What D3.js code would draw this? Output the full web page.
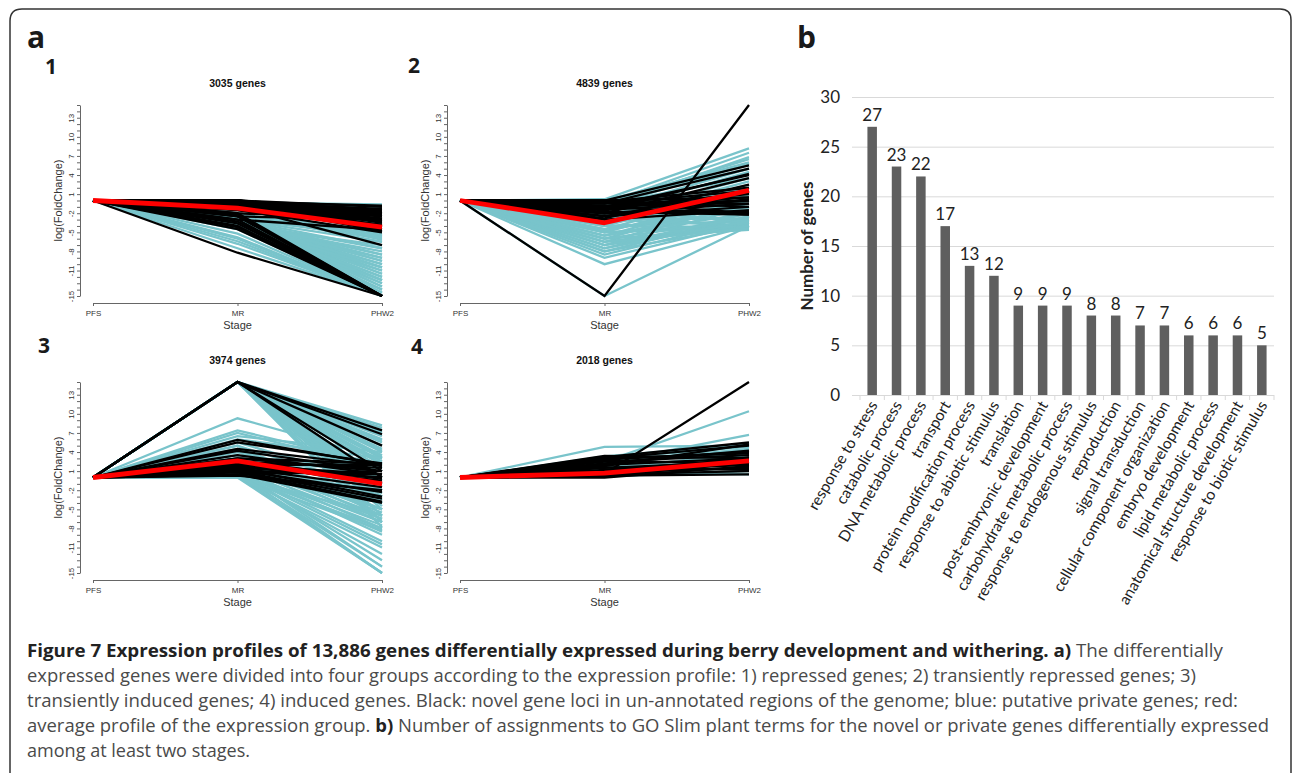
<!DOCTYPE html>
<html>
<head>
<meta charset="utf-8">
<script src="https://cdn.jsdelivr.net/npm/d3@7"></script>
<style>
  body { margin: 0; background: #fff; }
  svg { display: block; }
</style>
</head>
<body>
<div id="chart"></div>
<script>
// ---- data ----
var stages = ["PFS", "MR", "PHW2"];
var yTickLabels = [13, 10, 7, 4, 1, -2, -5, -8, -11, -15];
var geneCounts = ["3035 genes", "4839 genes", "3974 genes", "2018 genes"];

// each profile: [PFS, MR, PHW2] log fold change
var teal1 = [[0,-0.3,-0.6],[0,-0.3,-1.2],[0,-1,-2],[0,-1,-3.5],[0,-1,-5.5],[0,-1,-6.2],[0,-2,-5.6],[0,-2,-6.5],
  [0,-3,-4.5],[0,-3,-5],[0,-3,-5.3],[0,-3.2,-15],[0,-3.2,-14],[0,-3.2,-13],[0,-3.2,-12],[0,-3.2,-11],[0,-3.2,-10],[0,-3.2,-9],
  [0,-3.5,-15],[0,-3.5,-13.5],[0,-3.5,-12.5],[0,-3.5,-11.5],[0,-3.5,-10.5],[0,-3.5,-9.5],[0,-3.5,-8.5],[0,-3.5,-7.5],
  [0,-4,-15],[0,-4,-14.5],[0,-4,-13],[0,-4,-11],[0,-4,-9],[0,-4,-7],[0,-4.5,-15],[0,-4.5,-14],
  [0,-3,-14.5],[0,-3,-13.5],[0,-3,-12.5],[0,-3,-11.5],[0,-3,-10.5],[0,-3,-9.5],[0,-3,-8.5],[0,-3,-7.5],[0,-3,-6.5],
  [0,-3.8,-12],[0,-3.8,-10],[0,-3.8,-8],[0,-4.2,-12.5],[0,-4.2,-10.5],[0,-2.8,-5.8],[0,-2.5,-6],
  [0,-5.2,-15],[0,-5.8,-15],[0,-6,-15],[0,-6.4,-15],[0,-6.8,-15],[0,-7.5,-15]];
var black1 = [[0,0,-1],[0,0,-1.5],[0,0,-2],[0,0,-2.5],[0,0,-3],[0,0,-3.5],[0,0,-4],[0,0,-4.5],
  [0,-0.3,-1.3],[0,-0.3,-2.2],[0,-0.3,-3.2],[0,-0.3,-4.2],[0,-0.6,-1.8],[0,-0.6,-2.8],[0,-0.6,-4.8],
  [0,-1,-2.5],[0,-1,-3.8],[0,-1,-7],[0,-1.5,-4],[0,-1.5,-5],[0,-2,-3],[0,-2,-15],[0,-2.5,-15],[0,-2.5,-3],
  [0,-3,-15],[0,-3,-4.6],[0,-3.3,-15],[0,-3.6,-15],[0,-4,-15],[0,-4.2,-15],[0,-4.5,-15],[0,-8.2,-15],
  [0,-0.2,-0.8],[0,-0.4,-1.6],[0,-0.8,-3.3],[0,-1.2,-2],[0,-2.2,-15]];
var red1 = [0, -1.2, -4.2];

var teal2 = [[0,0.2,8.2],[0,-0.5,7.5],[0,-1,6.8],[0,0,6],[0,-1.5,5],[0,-2,4.5],[0,-2.5,3.5],[0,-3,3],[0,-3.5,2.5],
  [0,-4,2],[0,-4.5,1.5],[0,-5,1],[0,-5.5,0.5],[0,-6,0],[0,-6.5,-0.5],[0,-7,-1],[0,-7.5,-2],[0,-8,-2.5],[0,-8.5,-3],
  [0,-9,-3.5],[0,-10,-4],[0,-6,-4.6],[0,-5,-4.2],[0,-7,-3.8],[0,-4,-3.2],[0,-3,-2.8],[0,-6.5,-3.5],[0,-5.5,-2],
  [0,-4.5,-1.5],[0,-15,-4],[0,-2,-4.4],[0,-1,-3.6],[0,-3.5,-0.5],[0,-2.5,1],[0,-1.5,2],[0,-0.5,3.5],[0,0,5],
  [0,-2,-3],[0,-3,-4],[0,-4,-4.2],[0,-5,-3.6],[0,-6,-3],[0,-7,-2.5],[0,-7.5,-3.2],[0,-8,-4],[0,-6.5,-4.4],
  [0,-5.5,-1],[0,-4.8,0],[0,-3.8,1],[0,-3,1.8],[0,-2.2,-1.2],[0,-1.2,-2.4],[0,-0.5,6.5],[0,-1,5.8]];
var black2 = [[0,-15,15],[0,0,5.5],[0,-0.5,5],[0,-1,4],[0,-1.5,4.2],[0,-2,3.5],[0,-0.2,2],[0,-0.5,1.5],[0,-1,1],
  [0,-1.2,0.5],[0,-1.5,0],[0,-2,-0.5],[0,-2.5,-1],[0,-3,-1.5],[0,-0.3,-2],[0,-1,-2.2],[0,-2,-1.8],[0,0,-1],
  [0,-0.8,0],[0,-2.8,2.5],[0,-1.8,-2.2],[0,0,0.5],[0,-0.4,-0.5],[0,-1.4,1.2],[0,-2.4,0.2]];
var red2 = [0, -3.5, 1.6];

var teal3 = [[0,15,8.2],[0,15,7.8],[0,15,7.2],[0,15,6.5],[0,15,6],[0,15,5.5],[0,15,5],[0,15,4.5],[0,15,4],[0,15,3.5],
  [0,15,3],[0,15,2.5],[0,15,2],[0,15,1.5],[0,15,1],[0,15,0],[0,15,-1],[0,15,-2],[0,15,-3],[0,15,-4],[0,15,-5],
  [0,15,7],[0,15,5.8],[0,15,4.2],[0,15,3.2],[0,15,2.2],[0,15,-0.5],[0,15,-1.5],[0,15,-2.5],[0,15,-3.5],[0,15,-4.5],
  [0,15,-6],[0,15,-7],[0,15,-7.8],
  [0,9.3,3],[0,7.4,2],[0,7,1.5],[0,6.5,4],[0,6,3],[0,5.5,-1],[0,5,-2],[0,4.5,-3],[0,4,-4],[0,3.5,-5],[0,3,-5.5],
  [0,2.5,-6],[0,2,-6.5],[0,1.5,-7],[0,1,-7.5],[0,0.5,-8],[0,0,-8.3],[0,0.3,-15],[0,0.8,-15],[0,1.2,-14],[0,0.5,-12],
  [0,1,-10],[0,1.5,-9],[0,2,-8],[0,0.2,-6],[0,0.5,-4],[0,1,-2],[0,1.5,0],[0,2,1.5],[0,3,2],
  [0,0,-15],[0,0.5,-14],[0,1,-13],[0,0.2,-11],[0,0.7,-10.5],[0,1.2,-8.5],[0,2.5,-4],[0,3,-3],[0,4,-2],[0,3.5,-6.5],
  [0,2,-5],[0,1.5,-4],[0,4.5,-5],[0,5,-6],[0,2.8,-7]];
var black3 = [[0,15,7.4],[0,15,6.8],[0,15,5],[0,15,1],[0,15,0],[0,5.9,2],[0,5.5,2.2],[0,4.5,1.8],[0,4.2,1],[0,3,2.2],
  [0,2.5,1.5],[0,2,0.5],[0,1.8,-0.5],[0,1.5,-1.5],[0,1.2,-2.3],[0,1,-3.3],[0,0.8,-3.8],[0,0.5,-4],[0,0.3,-2],
  [0,2.2,-1],[0,1.6,0],[0,3,1],[0,2,2],[0,1,0.5],[0,0.5,1],[0,2.6,-0.2],[0,1.4,-3],[0,3.5,0.5]];
var red3 = [0, 2.6, -1];

var teal4 = [[0,4.8,5],[0,2.5,10.4],[0,2.3,6.7],[0,3,4.8],[0,2,4.5],[0,1.5,3.5],[0,1,3],[0,0.5,2.5],[0,2.8,3.8],
  [0,1.8,5.3],[0,0.2,1],[0,1,0.5],[0,2,2],[0,3.3,5.2],[0,2.6,4.4],[0,1.2,4],[0,0.6,1.5]];
var black4 = [[0,0.6,15],[0,3.2,5.5],[0,3,5],[0,2.8,4],[0,2.5,3.5],[0,2,3],[0,1.5,2.5],[0,1,2],[0,0.8,1.5],[0,0.5,1],
  [0,0.3,0.5],[0,2.2,4.2],[0,1.8,5.2],[0,3.4,3],[0,1.2,2.8],[0,0,1.8],[0,0.5,3.2],[0,2.6,2.2],[0,1.6,1.2],
  [0,0.2,2.4],[0,3,3.8]];
var red4 = [0, 0.7, 2.6];

var goTerms = ["response to stress", "catabolic process", "DNA metabolic process", "transport",
  "protein modification process", "response to abiotic stimulus", "translation", "post-embryonic development",
  "carbohydrate metabolic process", "response to endogenous stimulus", "reproduction", "signal transduction",
  "cellular component organization", "embryo development", "lipid metabolic process",
  "anatomical structure development", "response to biotic stimulus"];
var goCounts = [27, 23, 22, 17, 13, 12, 9, 9, 9, 8, 8, 7, 7, 6, 6, 6, 5];
var goTicks = [0, 5, 10, 15, 20, 25, 30];

// ---- layout ----
var svg = d3.select("#chart").append("svg")
    .attr("width", 1293)
    .attr("height", 773);

var rFont = "'Liberation Sans', Arial, sans-serif";
var capFont = "'Open Sans', 'Noto Sans', sans-serif";
var xlFont = "Lato, 'Open Sans', sans-serif";

// frame
svg.append("path")
    .attr("d", "M10,773 V21 Q10,9 22,9 H1280 Q1291,9 1291,20 V773")
    .attr("fill", "none")
    .attr("stroke", "#333")
    .attr("stroke-width", 1.5);

svg.append("text").attr("x", 27).attr("y", 48).text("a")
    .attr("font-family", capFont).attr("font-weight", 700).attr("font-size", 30).attr("fill", "#1a1a1a");
svg.append("text").attr("x", 797).attr("y", 48).text("b")
    .attr("font-family", capFont).attr("font-weight", 700).attr("font-size", 30).attr("fill", "#1a1a1a");

var panels = [
    {num: "1", dx: 0,   dy: 0,   numX: 45,  numY: 74,  teal: teal1, black: black1, red: red1, title: geneCounts[0]},
    {num: "2", dx: 367, dy: 0,   numX: 408, numY: 73,  teal: teal2, black: black2, red: red2, title: geneCounts[1]},
    {num: "3", dx: 0,   dy: 277, numX: 38,  numY: 353, teal: teal3, black: black3, red: red3, title: geneCounts[2]},
    {num: "4", dx: 367, dy: 277, numX: 411, numY: 354, teal: teal4, black: black4, red: red4, title: geneCounts[3]}
];

panels.forEach(function(p) {
    svg.append("text").attr("x", p.numX).attr("y", p.numY).text(p.num)
        .attr("font-family", capFont).attr("font-weight", 700).attr("font-size", 21).attr("fill", "#1a1a1a");

    var g = svg.append("g").attr("transform", "translate(" + p.dx + "," + p.dy + ")");

    var x = d3.scalePoint().domain(stages).range([93, 382]);
    var y = d3.scaleLinear().domain([-15, 15]).range([296, 105]);

    var line = d3.line()
        .x(function(d, i) { return x(stages[i]); })
        .y(function(d) { return y(d); });

    g.append("g").selectAll("path")
        .data(p.teal).enter().append("path")
        .attr("d", line).attr("fill", "none")
        .attr("stroke", "#79c4cb").attr("stroke-width", 2.3);

    g.append("g").selectAll("path")
        .data(p.black).enter().append("path")
        .attr("d", line).attr("fill", "none")
        .attr("stroke", "#000").attr("stroke-width", 2.3);

    g.append("path").datum(p.red)
        .attr("d", line).attr("fill", "none")
        .attr("stroke", "#ff0000").attr("stroke-width", 4.8)
        .attr("stroke-linejoin", "round");

    // y axis
    var ya = g.append("g").attr("transform", "translate(80,0)")
        .call(d3.axisLeft(y).tickValues(d3.range(-15, 16)).tickSize(3).tickSizeOuter(0)
            .tickFormat(function(d) { return yTickLabels.indexOf(d) >= 0 ? String(d) : ""; }));
    ya.selectAll(".tick text")
        .attr("x", null).attr("dy", null)
        .attr("text-anchor", "middle")
        .attr("transform", "translate(-6.5,0) rotate(-90)");

    // x axis
    var xa = g.append("g").attr("transform", "translate(0,303)")
        .call(d3.axisBottom(x).tickSize(3).tickSizeOuter(0).tickPadding(4));

    [ya, xa].forEach(function(a) {
        a.attr("font-family", rFont).attr("font-size", 8);
        a.selectAll("path, line").attr("stroke", "#666");
        a.selectAll("text").attr("fill", "#333");
    });

    g.append("text").attr("x", x("MR")).attr("y", 87)
        .attr("text-anchor", "middle").text(p.title)
        .attr("font-family", rFont).attr("font-weight", 700).attr("font-size", 10.5).attr("fill", "#111");

    g.append("text").attr("x", x("MR")).attr("y", 329)
        .attr("text-anchor", "middle").text("Stage")
        .attr("font-family", rFont).attr("font-size", 11).attr("fill", "#333");

    g.append("text").attr("transform", "translate(62," + ((296 + 105) / 2) + ") rotate(-90)")
        .attr("text-anchor", "middle").text("log(FoldChange)")
        .attr("font-family", rFont).attr("font-size", 11).attr("fill", "#333");
});

// ---- panel b: bar chart ----
var bx = d3.scaleBand().domain(goTerms).range([860, 1274]).paddingInner(0.61).paddingOuter(0.305);
var by = d3.scaleLinear().domain([0, 30]).range([395, 97]);

var grid = svg.append("g").attr("transform", "translate(852,0)")
    .call(d3.axisLeft(by).tickValues(goTicks).tickSize(-422).tickPadding(12));
grid.select(".domain").remove();
grid.selectAll("line").attr("stroke", "#d9d9d9");
grid.selectAll("text").attr("font-family", xlFont).attr("font-size", 17).attr("fill", "#222");

// x axis boundaries
svg.append("g").selectAll("line")
    .data(d3.range(goTerms.length + 1)).enter().append("line")
    .attr("x1", function(i) { return bx.range()[0] + i * bx.step(); })
    .attr("x2", function(i) { return bx.range()[0] + i * bx.step(); })
    .attr("y1", 395).attr("y2", 400)
    .attr("stroke", "#d9d9d9");

svg.append("g").selectAll("rect")
    .data(goCounts).enter().append("rect")
    .attr("x", function(d, i) { return bx(goTerms[i]); })
    .attr("y", function(d) { return by(d); })
    .attr("width", bx.bandwidth())
    .attr("height", function(d) { return by(0) - by(d); })
    .attr("fill", "#5f5f5f");

svg.append("g").selectAll("text")
    .data(goCounts).enter().append("text")
    .attr("x", function(d, i) { return bx(goTerms[i]) + bx.bandwidth() / 2; })
    .attr("y", function(d) { return by(d) - 6; })
    .attr("text-anchor", "middle")
    .attr("font-family", xlFont).attr("font-size", 17).attr("fill", "#222")
    .text(function(d) { return d; });

svg.append("g").selectAll("text")
    .data(goTerms).enter().append("text")
    .attr("transform", function(d) {
        return "translate(" + (bx(d) + bx.bandwidth() / 2 + 6) + ",405) rotate(-60)";
    })
    .attr("text-anchor", "end")
    .attr("font-family", xlFont).attr("font-size", 15.5).attr("fill", "#222")
    .text(function(d) { return d; });

svg.append("text").attr("transform", "translate(813,246) rotate(-90)")
    .attr("text-anchor", "middle").text("Number of genes")
    .attr("font-family", xlFont).attr("font-weight", 700).attr("font-size", 17).attr("fill", "#222");

// ---- caption ----
var capLines = [
    {y: 657, w: 1196, parts: [["Figure 7 Expression profiles of 13,886 genes differentially expressed during berry development and withering. a)", 1], [" The differentially", 0]]},
    {y: 682, w: 1169, parts: [["expressed genes were divided into four groups according to the expression profile: 1) repressed genes; 2) transiently repressed genes; 3)", 0]]},
    {y: 707, w: 1211, parts: [["transiently induced genes; 4) induced genes. Black: novel gene loci in un-annotated regions of the genome; blue: putative private genes; red:", 0]]},
    {y: 732, w: 1242, parts: [["average profile of the expression group. ", 0], ["b)", 1], [" Number of assignments to GO Slim plant terms for the novel or private genes differentially expressed", 0]]},
    {y: 757, w: 223, parts: [["among at least two stages.", 0]]}
];

capLines.forEach(function(l) {
    var t = svg.append("text").attr("x", 27).attr("y", l.y)
        .attr("font-family", capFont).attr("font-size", 17.5)
        .attr("textLength", l.w).attr("lengthAdjust", "spacingAndGlyphs")
        .attr("xml:space", "preserve");
    l.parts.forEach(function(pt) {
        t.append("tspan").text(pt[0])
            .attr("font-weight", pt[1] ? 700 : 400)
            .attr("fill", pt[1] ? "#222" : "#4a4a4a");
    });
});
</script>
</body>
</html>
